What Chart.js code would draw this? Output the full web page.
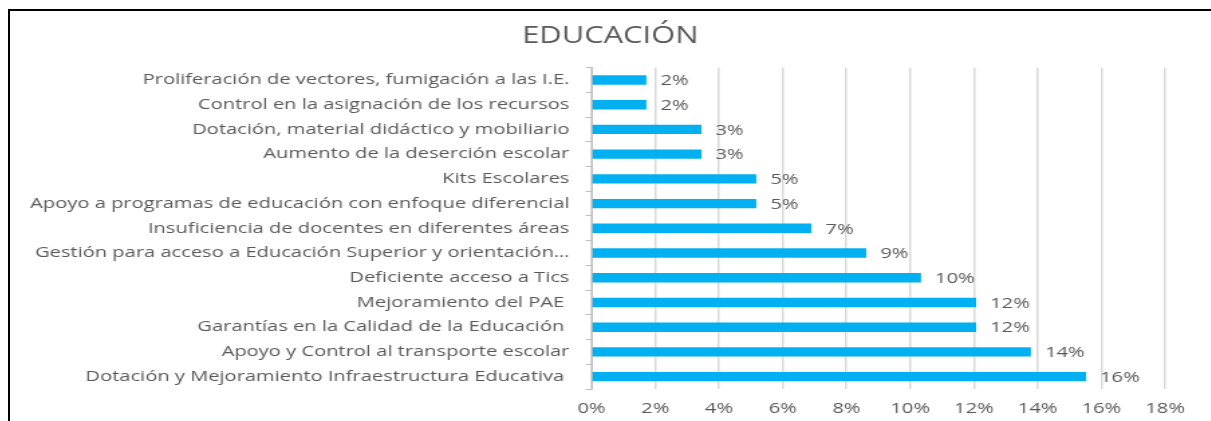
<!DOCTYPE html>
<html>
<head>
<meta charset="utf-8">
<script src="https://cdn.jsdelivr.net/npm/chart.js@4/dist/chart.umd.min.js"></script>
<style>
    body { margin: 0; background: #fff; overflow: hidden; }
    #frame {
        position: absolute; left: 8px; top: 9px;
        width: 1203px; height: 412px;
        border-top: 2px solid #000; border-left: 2px solid #000;
    }
    /* the source picture is stretched sideways, so the whole chart is too */
    #wrap {
        position: relative; width: 896px; height: 410px;
        transform: scaleX(1.34); transform-origin: 0 0;
    }
</style>
</head>
<body>
<div id="frame"><div id="wrap"><canvas id="myChart"></canvas></div></div>
<script>
var categories = [
    "Proliferación de vectores, fumigación a las I.E.",
    "Control en la asignación de los recursos",
    "Dotación, material didáctico y mobiliario",
    "Aumento de la deserción escolar",
    "Kits Escolares",
    "Apoyo a programas de educación con enfoque diferencial",
    "Insuficiencia de docentes en diferentes áreas",
    "Gestión para acceso a Educación Superior y orientación…",
    "Deficiente acceso a Tics",
    "Mejoramiento del PAE ",
    "Garantías en la Calidad de la Educación ",
    "Apoyo y Control al transporte escolar",
    "Dotación y Mejoramiento Infraestructura Educativa "
];
var percentages = [1.72, 1.72, 3.45, 3.45, 5.17, 5.17, 6.9, 8.62, 10.34, 12.07, 12.07, 13.79, 15.52];
var xTicks = [0, 2, 4, 6, 8, 10, 12, 14, 16, 18];

var textColor = "#595959";
var fontName = "'Open Sans', sans-serif";

// draws the "2%" style labels after each bar
var barLabels = {
    id: 'barLabels',
    afterLayout: function (chart) {
        // centre the title on the whole canvas, not only up to the right padding
        if (chart.titleBlock) {
            chart.titleBlock.right = chart.width;
        }
    },
    afterDatasetsDraw: function (chart) {
        var ctx = chart.ctx;
        var meta = chart.getDatasetMeta(0);
        ctx.save();
        ctx.font = "15px " + fontName;
        ctx.fillStyle = textColor;
        ctx.textAlign = "left";
        ctx.textBaseline = "middle";
        meta.data.forEach(function (bar, i) {
            ctx.fillText(Math.round(percentages[i]) + "%", bar.x + 10.5, bar.y + 1);
        });
        ctx.restore();
    }
};

var ctx = document.getElementById('myChart').getContext('2d');
var myChart = new Chart(ctx, {
    type: 'bar',
    data: {
        labels: categories,
        datasets: [{
            data: percentages,
            backgroundColor: "#00b0f0",
            barPercentage: 0.38,
            categoryPercentage: 1
        }]
    },
    options: {
        indexAxis: 'y',
        responsive: true,
        maintainAspectRatio: false,
        animation: false,
        layout: { padding: { left: 0, right: 34, top: 0, bottom: -8 } },
        plugins: {
            legend: { display: false },
            tooltip: { enabled: false },
            title: {
                display: true,
                text: "EDUCACIÓN",
                color: textColor,
                font: { family: fontName, size: 23, weight: 'normal' },
                padding: { top: 12, bottom: 17 }
            }
        },
        scales: {
            x: {
                min: 0,
                max: 18,
                afterBuildTicks: function (scale) {
                    scale.ticks = xTicks.map(function (v) { return { value: v }; });
                },
                grid: { color: "#d9d9d9", lineWidth: 1.5, drawTicks: false },
                border: { display: false },
                ticks: {
                    color: textColor,
                    padding: 11,
                    font: { family: fontName, size: 15 },
                    callback: function (v) { return v + "%"; }
                }
            },
            y: {
                afterFit: function (scale) { scale.width = 434; },
                grid: { drawOnChartArea: false, drawTicks: true, tickLength: 4.5, color: "#bfbfbf" },
                border: { display: true, color: "#bfbfbf", width: 1 },
                ticks: {
                    color: textColor,
                    padding: 12,
                    autoSkip: false,
                    font: { family: fontName, size: 15 }
                }
            }
        }
    },
    plugins: [barLabels]
});
</script>
</body>
</html>
